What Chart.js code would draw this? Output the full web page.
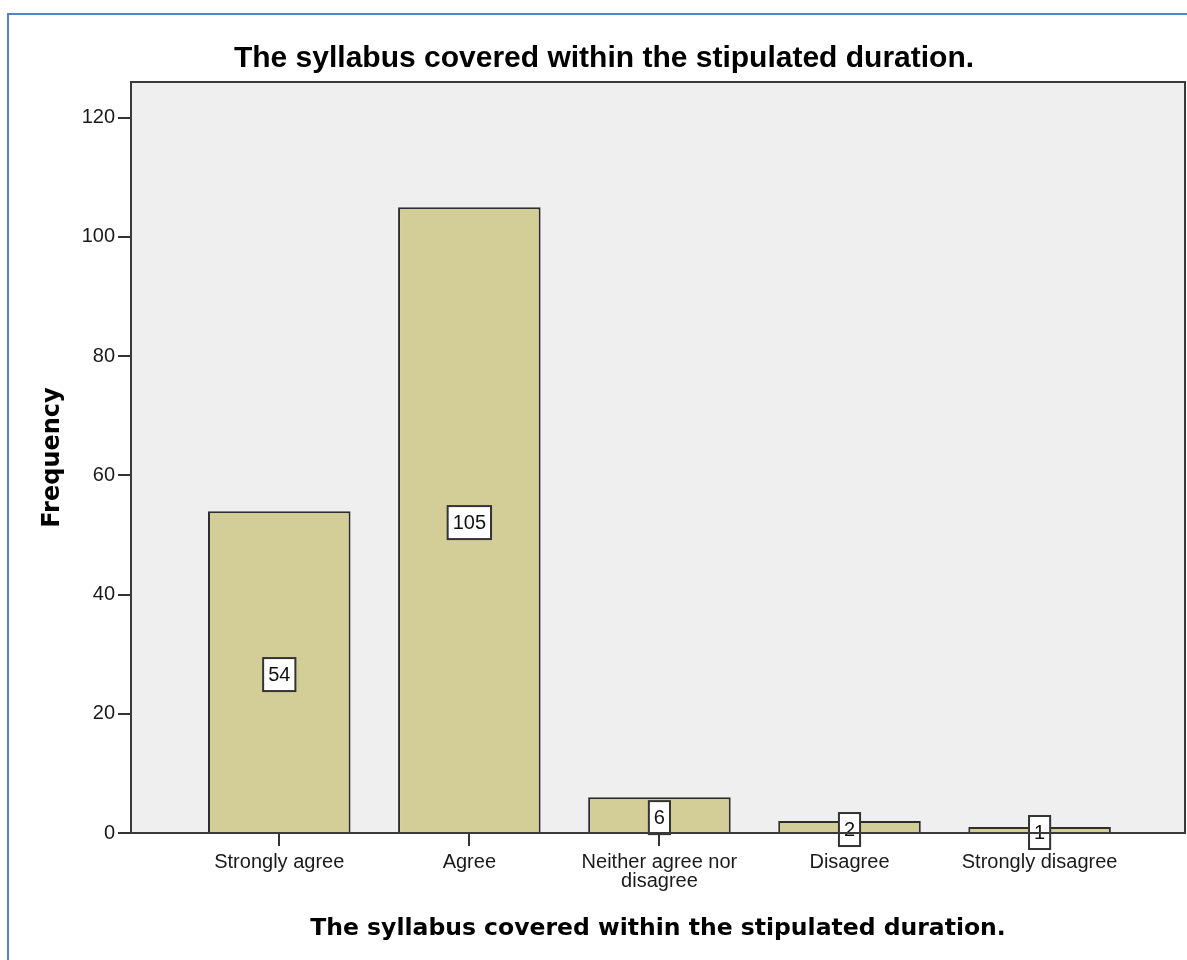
<!DOCTYPE html>
<html>
<head>
<meta charset="utf-8">
<script src="https://cdn.jsdelivr.net/npm/chart.js@4.4.1/dist/chart.umd.min.js"></script>
<style>
  html, body { margin: 0; padding: 0; background: #fff; }
  #wrap { position: relative; width: 1187px; height: 960px; }
  #frame {
    position: absolute; left: 7px; top: 13px; width: 1300px; height: 1100px;
    border-left: 2px solid #5584c2; border-top: 2px solid #5584c2;
    pointer-events: none;
  }
</style>
</head>
<body>
<div id="wrap">
  <canvas id="freqChart" width="1187" height="960"></canvas>
  <div id="frame"></div>
</div>
<script>
// chart data
const chartTitle = "The syllabus covered within the stipulated duration.";
const categories = ["Strongly agree", "Agree", "Neither agree nor disagree", "Disagree", "Strongly disagree"];
const frequency = [54, 105, 6, 2, 1];
const yTicks = [0, 20, 40, 60, 80, 100, 120];

const tickFont = { family: "'Liberation Sans', Arial, sans-serif", size: 20, lineHeight: 0.95 };

// grey plot box behind the bars, outline on top
const plotBox = {
  id: "plotBox",
  beforeDraw(chart) {
    const { ctx, chartArea: a } = chart;
    ctx.save();
    ctx.fillStyle = "#efefef";
    ctx.fillRect(a.left, a.top, a.right - a.left, a.bottom - a.top);
    ctx.restore();
  },
  afterDraw(chart) {
    const { ctx, chartArea: a } = chart;
    ctx.save();
    ctx.strokeStyle = "#3a3a3a";
    ctx.lineWidth = 2;
    ctx.strokeRect(a.left, a.top, a.right - a.left, a.bottom - a.top);
    ctx.restore();
  }
};

// white value boxes in the middle of each bar
const valueBoxes = {
  id: "valueBoxes",
  afterDatasetsDraw(chart) {
    const ctx = chart.ctx;
    const meta = chart.getDatasetMeta(0);
    ctx.save();
    ctx.font = "20px 'Liberation Sans', Arial, sans-serif";
    ctx.textAlign = "center";
    ctx.textBaseline = "middle";
    meta.data.forEach((bar, i) => {
      const txt = String(frequency[i]);
      const w = ctx.measureText(txt).width + 10;
      const h = 33;
      const cx = bar.x;
      const cy = (bar.y + bar.base) / 2 + 3;
      ctx.fillStyle = "#fff";
      ctx.fillRect(cx - w / 2, cy - h / 2, w, h);
      ctx.strokeStyle = "#333";
      ctx.lineWidth = 2;
      ctx.strokeRect(cx - w / 2, cy - h / 2, w, h);
      ctx.fillStyle = "#111";
      ctx.fillText(txt, cx, cy + 1);
    });
    ctx.restore();
  }
};

const ctx = document.getElementById("freqChart");

new Chart(ctx, {
  type: "bar",
  data: {
    datasets: [{
      label: "Frequency",
      data: categories.map((c, i) => ({ x: i, y: frequency[i] })),
      backgroundColor: "#d3ce98",
      borderColor: "#2e2e2e",
      borderWidth: 2,
      categoryPercentage: 1,
      barPercentage: 0.75
    }]
  },
  plugins: [plotBox, valueBoxes],
  options: {
    responsive: false,
    animation: false,
    layout: { padding: { left: 23, right: 2, top: 0, bottom: 0 } },
    plugins: {
      legend: { display: false },
      tooltip: { enabled: false },
      title: {
        display: true,
        text: chartTitle,
        color: "#000",
        font: { family: "'Liberation Sans', Arial, sans-serif", size: 30, weight: "bold", lineHeight: 1.2 },
        padding: { top: 41, bottom: 5 }
      }
    },
    scales: {
      x: {
        type: "linear",
        offset: false,
        min: -0.78,
        max: 4.765,
        afterBuildTicks: (scale) => { scale.ticks = categories.map((c, i) => ({ value: i })); },
        afterFit: (scale) => { scale.height = 127; },
        ticks: {
          autoSkip: false,
          maxRotation: 0,
          padding: 7,
          color: "#1a1a1a",
          font: tickFont,
          callback: (v) => {
            const c = categories[v];
            return c === "Neither agree nor disagree" ? ["Neither agree nor", "disagree"] : c;
          }
        },
        grid: { display: true, offset: false, drawOnChartArea: false, tickLength: 13, color: "#333", lineWidth: 2 },
        border: { display: true, color: "#333", width: 2 },
        title: {
          display: true,
          text: chartTitle,
          color: "#000",
          font: { family: "'DejaVu Sans', Verdana, sans-serif", size: 23.5, weight: "bold", lineHeight: 1.2 },
          padding: { top: 0, bottom: 17 }
        }
      },
      y: {
        min: 0,
        max: 126,
        afterBuildTicks: (scale) => { scale.ticks = yTicks.map((v) => ({ value: v })); },
        afterFit: (scale) => { scale.width = 108; },
        ticks: { padding: 3, color: "#1a1a1a", font: tickFont },
        grid: { display: true, drawOnChartArea: false, tickLength: 13, color: "#333", lineWidth: 2 },
        border: { display: true, color: "#333", width: 2 },
        title: {
          display: true,
          text: "Frequency",
          color: "#000",
          font: { family: "'DejaVu Sans', Verdana, sans-serif", size: 24, weight: "bold", lineHeight: 1.2 },
          padding: { top: 15, bottom: 0 }
        }
      }
    }
  }
});
</script>
</body>
</html>
